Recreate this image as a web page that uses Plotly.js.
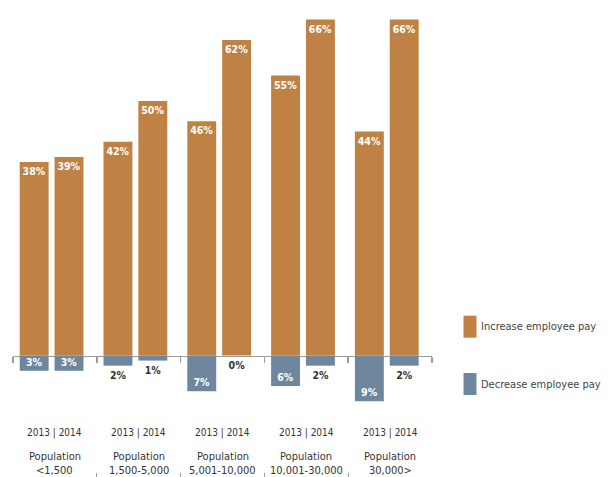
<!DOCTYPE html>
<html><head><meta charset="utf-8">
<script src="https://cdn.plot.ly/plotly-3.0.1.min.js"></script>
<style>html,body{margin:0;padding:0;background:#fff}#chart{width:613px;height:477px}</style>
</head><body><div id="chart"></div>
<script>
// ---- data ----
const categoryPrefix = 'Population';
const categories = ['<1,500', '1,500-5,000', '5,001-10,000', '10,001-30,000', '30,000>'];
const years = ['2013', '2014'];
const seriesNames = ['Increase employee pay', 'Decrease employee pay'];
const increase2013 = [38, 42, 46, 55, 44];
const increase2014 = [39, 50, 62, 66, 66];
const decrease2013 = [3, 2, 7, 6, 9];
const decrease2014 = [3, 1, 0, 2, 2];

// ---- styling / geometry ----
const W = 613, H = 477;
const plotLeft = 13, plotRight = 432, plotTop = 8, plotBottom = 477;
const zeroPx = 355.5, pxPerUnit = 5.09;
const yMax = (zeroPx - plotTop) / pxPerUnit;
const yMin = -(plotBottom - zeroPx) / pxPerUnit;
const zeroPos = (plotBottom - zeroPx) / (plotBottom - plotTop);
const px2x = p => (p - plotLeft) / (plotRight - plotLeft);
const px2y = p => (plotBottom - p) / (plotBottom - plotTop);
const ORANGE = '#C08244', BLUE = '#6E869E', AXIS = '#9b9b9b', TEXT = '#333333';
const FONT = "'DejaVu Sans Condensed','DejaVu Sans',sans-serif";
const barWidth = 0.345, offsets = [-0.42, -0.004];
const insideMin = 3; // values below this get their label outside the bar

const idx = categories.map((_, i) => i);
const xRange = [-0.5, categories.length - 0.5];
const boundaries = categories.map((_, i) => i - 0.5).concat([categories.length - 0.5]);
const valueFont = {family: FONT, size: 10.5, color: '#ffffff', weight: 'bold'};

function incTrace(vals, k) {
  return {
    type: 'bar', x: idx, y: vals, width: barWidth, offset: offsets[k],
    name: seriesNames[0], marker: {color: ORANGE, line: {width: 0}},
    text: vals.map(v => v + '%'), textposition: 'inside', insidetextanchor: 'end',
    textangle: 0, constraintext: 'none', insidetextfont: valueFont,
    showlegend: false, hoverinfo: 'skip'
  };
}
function decTrace(vals, k) {
  return {
    type: 'bar', x: idx, y: vals.map(v => -v), width: barWidth, offset: offsets[k],
    name: seriesNames[1], marker: {color: BLUE, line: {width: 0}},
    text: vals.map(v => v >= insideMin ? v + '%' : ''),
    textposition: 'inside', insidetextanchor: 'end',
    textangle: 0, constraintext: 'none', insidetextfont: valueFont,
    showlegend: false, hoverinfo: 'skip'
  };
}
function decOutsideLabels(vals, k) {
  const keep = idx.filter(i => vals[i] < insideMin);
  return {
    type: 'scatter', mode: 'markers+text', x: keep.map(i => i + offsets[k] + barWidth / 2),
    y: keep.map(i => -vals[i]), text: keep.map(i => vals[i] + '%'),
    textposition: 'bottom center', cliponaxis: false,
    marker: {size: 7, color: 'rgba(0,0,0,0)', line: {width: 0}},
    textfont: {family: FONT, size: 10.5, color: TEXT, weight: 'bold'},
    showlegend: false, hoverinfo: 'skip'
  };
}

const data = [
  incTrace(increase2013, 0), incTrace(increase2014, 1),
  decTrace(decrease2013, 0), decTrace(decrease2014, 1),
  decOutsideLabels(decrease2013, 0), decOutsideLabels(decrease2014, 1),
  {type: 'scatter', x: [], y: [], xaxis: 'x2', yaxis: 'y', showlegend: false, hoverinfo: 'skip'}
];

const annotations = [];
idx.forEach(i => {
  annotations.push({xref: 'x', yref: 'paper', x: i, y: px2y(432.7), text: years.join(' | '),
    showarrow: false, yanchor: 'middle', font: {family: FONT, size: 10, color: TEXT}});
  annotations.push({xref: 'x', yref: 'paper', x: i, y: px2y(456), text: categoryPrefix,
    showarrow: false, yanchor: 'middle', font: {family: FONT, size: 11, color: TEXT}});
  annotations.push({xref: 'x', yref: 'paper', x: i, y: px2y(470.5), text: categories[i],
    showarrow: false, yanchor: 'middle', font: {family: FONT, size: 11, color: TEXT}});
});
const legendColors = [ORANGE, BLUE];
const legendCenters = [326.7, 384];
const shapes = [];
seriesNames.forEach((n, k) => {
  shapes.push({type: 'rect', xref: 'paper', yref: 'paper', x0: px2x(463.5), x1: px2x(476.5),
    y0: px2y(legendCenters[k] - 11), y1: px2y(legendCenters[k] + 11),
    fillcolor: legendColors[k], line: {width: 0}});
  annotations.push({xref: 'paper', yref: 'paper', x: px2x(479), y: px2y(legendCenters[k]),
    xanchor: 'left', yanchor: 'middle', showarrow: false, text: n,
    font: {family: FONT, size: 11, color: '#444444'}});
});

const layout = {
  width: W, height: H, margin: {l: plotLeft, r: W - plotRight, t: plotTop, b: H - plotBottom, pad: 0},
  paper_bgcolor: '#ffffff', plot_bgcolor: '#ffffff', barmode: 'overlay', showlegend: false,
  xaxis: {range: xRange, anchor: 'free', position: zeroPos, showline: true, linecolor: AXIS, linewidth: 1.5,
    ticks: 'outside', ticklen: 6, tickwidth: 1.5, tickcolor: AXIS, tickvals: boundaries,
    showticklabels: false, showgrid: false, zeroline: false, layer: 'below traces', fixedrange: true},
  xaxis2: {overlaying: 'x', range: xRange, anchor: 'y', side: 'bottom', ticks: 'inside', ticklen: 4,
    tickwidth: 1, tickcolor: AXIS, tickvals: boundaries, showticklabels: false, showline: false,
    showgrid: false, zeroline: false, fixedrange: true},
  yaxis: {range: [yMin, yMax], visible: false, fixedrange: true},
  annotations: annotations, shapes: shapes, hovermode: false
};
Plotly.newPlot('chart', data, layout, {staticPlot: true, displayModeBar: false});
</script></body></html>
